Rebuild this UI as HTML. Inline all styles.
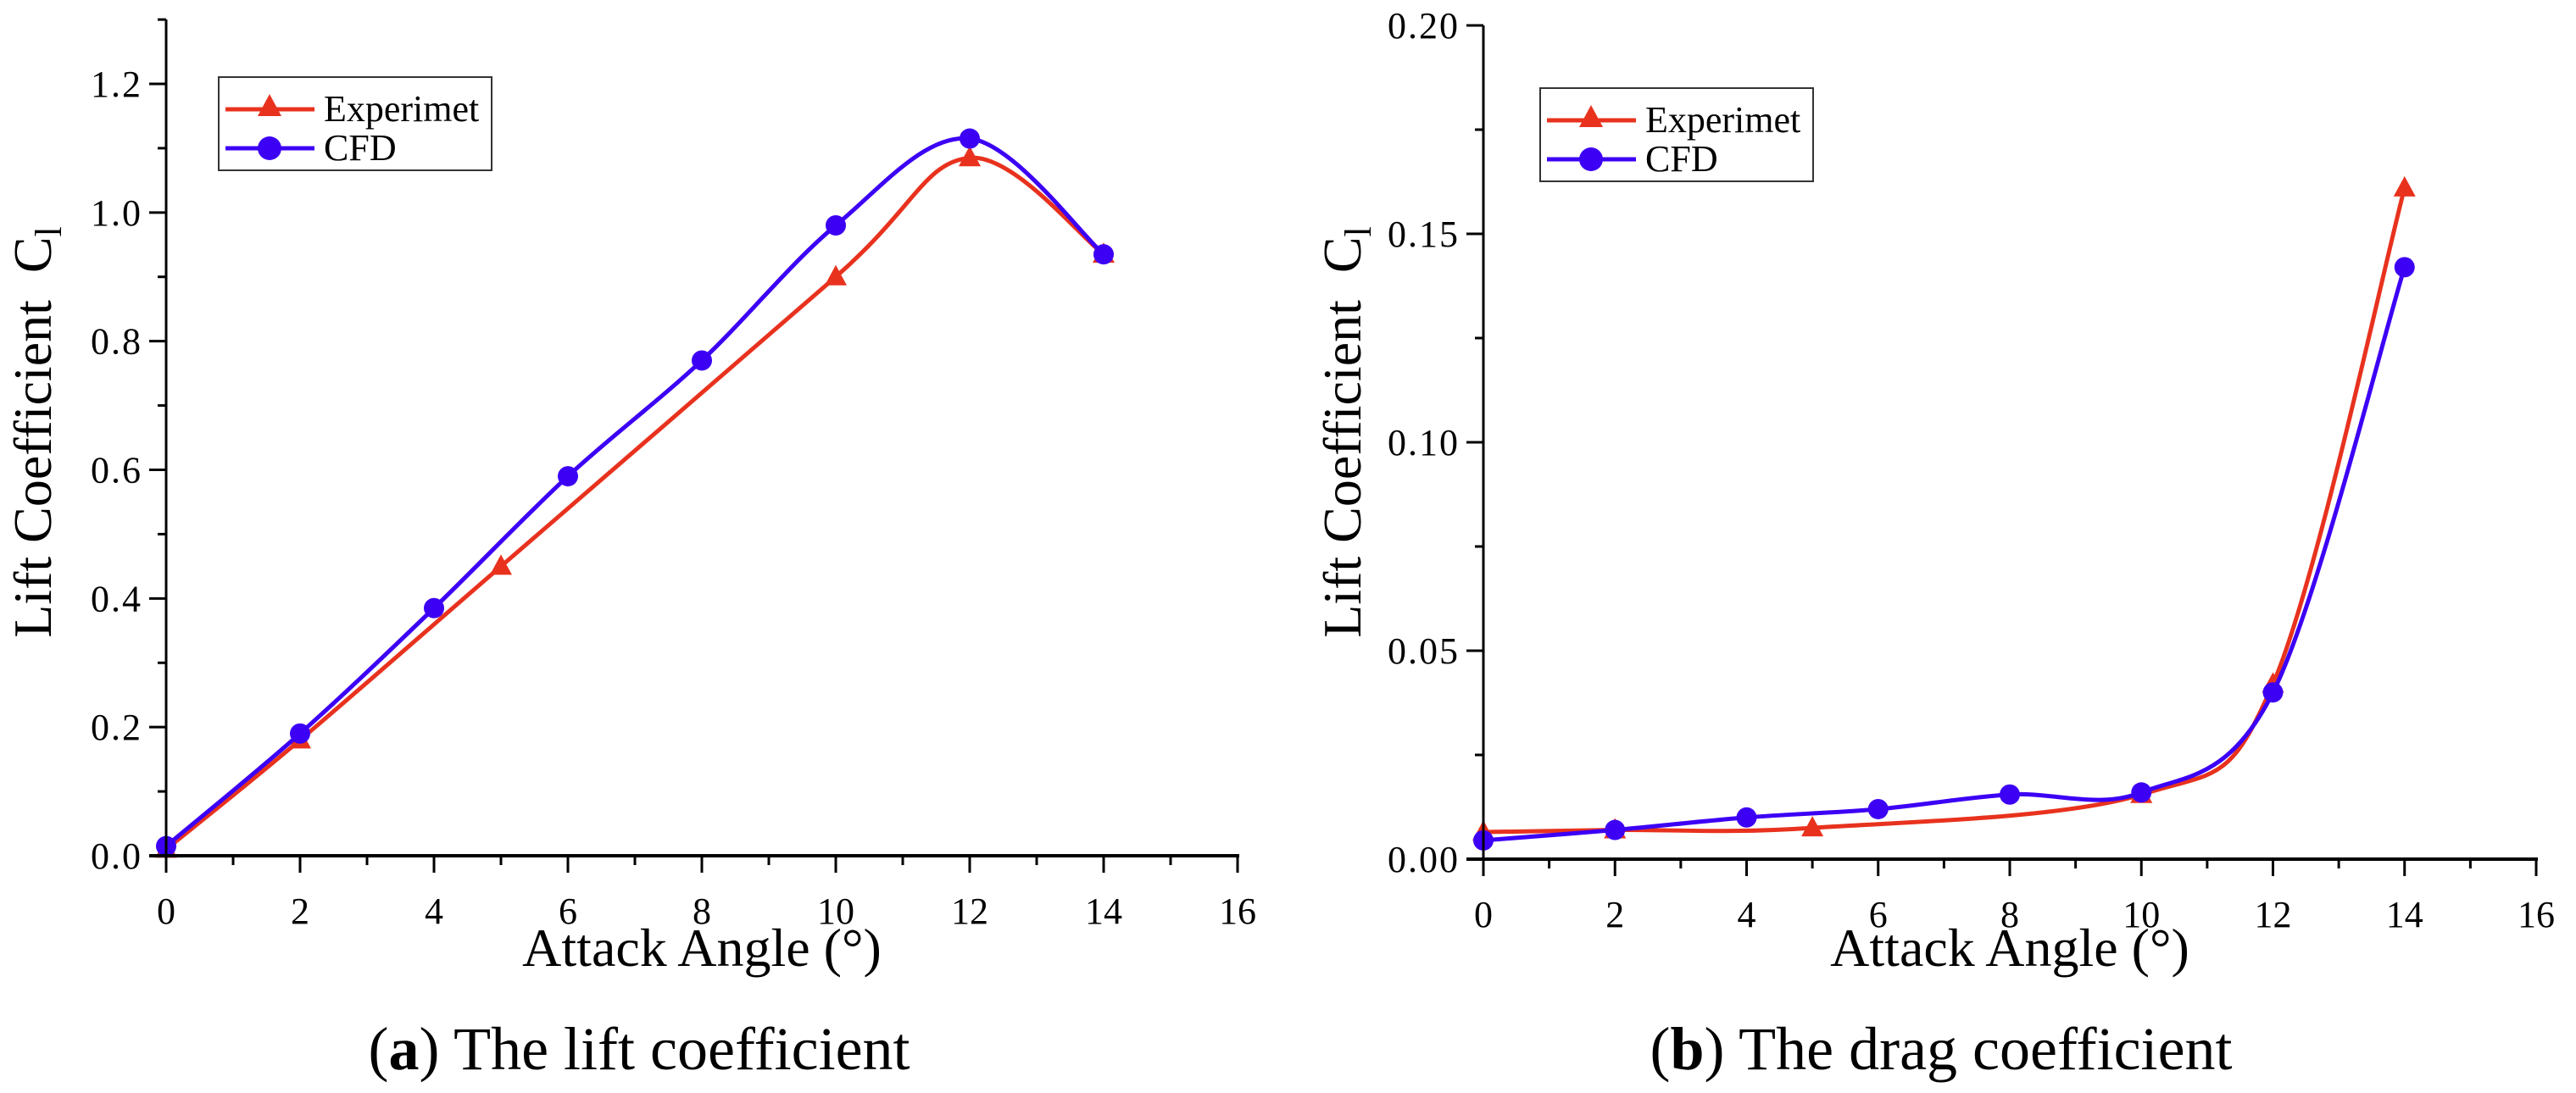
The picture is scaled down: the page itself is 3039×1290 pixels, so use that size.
<!DOCTYPE html>
<html><head><meta charset="utf-8"><style>
html,body{margin:0;padding:0;background:#fff;}
svg{display:block;font-family:"Liberation Serif",serif;}
.tk{font-stretch:condensed;}
</style></head><body>
<svg id="fig" width="3039" height="1290" viewBox="0 0 3039 1290" xmlns="http://www.w3.org/2000/svg"></svg>
<script>
// ---- Chart (a) data: lift coefficient ----
const liftExpX = [0, 2, 5, 10, 12, 14];
const liftExpY = [0.01, 0.18, 0.45, 0.90, 1.085, 0.935];
const liftCfdX = [0, 2, 4, 6, 8, 10, 12, 14];
const liftCfdY = [0.015, 0.19, 0.385, 0.59, 0.77, 0.98, 1.115, 0.935];
const liftYTicks = ["0.0", "0.2", "0.4", "0.6", "0.8", "1.0", "1.2"];
// ---- Chart (b) data: drag coefficient ----
const dragExpX = [0, 2, 5, 10, 12, 14];
const dragExpY = [0.0065, 0.007, 0.0075, 0.0155, 0.042, 0.161];
const dragCfdX = [0, 2, 4, 6, 8, 10, 12, 14];
const dragCfdY = [0.0045, 0.007, 0.010, 0.012, 0.0155, 0.016, 0.040, 0.142];
const dragYTicks = ["0.00", "0.05", "0.10", "0.15", "0.20"];
const xTicks = ["0", "2", "4", "6", "8", "10", "12", "14", "16"];

const NS = "http://www.w3.org/2000/svg";
const svg = document.getElementById("fig");
const RED = "#e8321e", BLUE = "#3c00f5";
function mk(tag, attrs, parent) {
  const e = document.createElementNS(NS, tag);
  for (const k in attrs) e.setAttribute(k, attrs[k]);
  (parent || svg).appendChild(e);
  return e;
}
function spline(pts) {
  let d = "M" + pts[0][0] + "," + pts[0][1];
  for (let i = 0; i < pts.length - 1; i++) {
    const p0 = pts[Math.max(i - 1, 0)], p1 = pts[i], p2 = pts[i + 1], p3 = pts[Math.min(i + 2, pts.length - 1)];
    const c1 = [p1[0] + (p2[0] - p0[0]) / 6, p1[1] + (p2[1] - p0[1]) / 6];
    const c2 = [p2[0] - (p3[0] - p1[0]) / 6, p2[1] - (p3[1] - p1[1]) / 6];
    d += " C" + c1[0] + "," + c1[1] + " " + c2[0] + "," + c2[1] + " " + p2[0] + "," + p2[1];
  }
  return d;
}
function chart(cfg) {
  const g = mk("g", {});
  
  
  const sx = v => cfg.x0 + (cfg.x1 - cfg.x0) * v / 16;
  const sy = v => cfg.y0 + (cfg.yMaxPx - cfg.y0) * v / cfg.yMax;
  function series(xs, ys, color, marker, nm) {
    const pts = xs.map((x, i) => [sx(x), sy(ys[i])]);
    const p = mk("path", { d: spline(pts), fill: "none", stroke: color, "stroke-width": 5 }, g);
    
    
    pts.forEach(pt => {
      let m;
      if (marker === "tri") m = mk("polygon", { points: `${pt[0]},${pt[1]-14} ${pt[0]-13},${pt[1]+10} ${pt[0]+13},${pt[1]+10}`, fill: color }, g);
      else m = mk("ellipse", { cx: pt[0], cy: pt[1], rx: 12, ry: 12, fill: color }, g);
      
      
    });
  }
  series(cfg.ex, cfg.ey, RED, "tri", "experiment");
  series(cfg.cx, cfg.cy, BLUE, "circle", "cfd");
  const ya = mk("line", { x1: cfg.x0, y1: cfg.yTop, x2: cfg.x0, y2: cfg.y0 + 2, stroke: "#000", "stroke-width": 3 }, g);
  
  
  const xa = mk("line", { x1: cfg.x0 - 20, y1: cfg.y0, x2: cfg.x1 + 2, y2: cfg.y0, stroke: "#000", "stroke-width": 4 }, g);
  
  
  for (let v = 0; v <= 16; v++) {
    const x = sx(v), major = v % 2 === 0;
    mk("line", { x1: x, y1: cfg.y0, x2: x, y2: cfg.y0 + (major ? 20 : 11), stroke: "#000", "stroke-width": 3 }, g);
    if (major) {
      const t = mk("text", { x: x, y: cfg.y0 + 80, "text-anchor": "middle", "font-size": 44, class: "tk" }, g);
      t.textContent = xTicks[v / 2];
      
      
    }
  }
  const n = cfg.yLabels.length;
  for (let i = 0; i < (n - 1) * 2 + cfg.extraMinor; i++) {
    const v = cfg.yMax / ((n - 1) * 2) * i;
    const y = sy(v), major = i % 2 === 0;
    if (i !== 0) mk("line", { x1: cfg.x0, y1: y, x2: cfg.x0 - (major ? 20 : 10), y2: y, stroke: "#000", "stroke-width": 3 }, g);
    if (major) {
      const t = mk("text", { x: cfg.x0 - 28, y: y + 15, "text-anchor": "end", "font-size": 44, "letter-spacing": 2, class: "tk" }, g);
      t.textContent = cfg.yLabels[i / 2];
      
      
    }
  }
  const yt = mk("text", { x: 0, y: 0, "text-anchor": "middle", "font-size": 64, transform: `translate(${cfg.ytx},510) rotate(-90)` }, g);
  yt.innerHTML = 'Lift Coefficient&#160;&#160;C<tspan font-size="44" dy="12">l</tspan>';
  
  
  const xt = mk("text", { x: (cfg.x0 + cfg.x1) / 2, y: 1140, "text-anchor": "middle", "font-size": 64 }, g);
  xt.textContent = "Attack Angle (°)";
  
  
  const lg = mk("g", {}, g);
  
  
  const L = cfg.leg;
  mk("rect", { x: L[0], y: L[1], width: 322, height: 110, fill: "#fff", stroke: "#333", "stroke-width": 2 }, lg);
  mk("line", { x1: L[0] + 8, y1: L[1] + 38, x2: L[0] + 113, y2: L[1] + 38, stroke: RED, "stroke-width": 5 }, lg);
  mk("polygon", { points: `${L[0]+60},${L[1]+20} ${L[0]+46},${L[1]+46} ${L[0]+74},${L[1]+46}`, fill: RED }, lg);
  mk("line", { x1: L[0] + 8, y1: L[1] + 84, x2: L[0] + 113, y2: L[1] + 84, stroke: BLUE, "stroke-width": 5 }, lg);
  mk("circle", { cx: L[0] + 60, cy: L[1] + 84, r: 14, fill: BLUE }, lg);
  const e1 = mk("text", { x: L[0] + 124, y: L[1] + 52, "font-size": 44 }, lg);
  e1.textContent = "Experimet";
  
  
  const e2 = mk("text", { x: L[0] + 124, y: L[1] + 98, "font-size": 44 }, lg);
  e2.textContent = "CFD";
  
  
  const cp = mk("text", { x: cfg.capX, y: 1262, "text-anchor": "middle", "font-size": 72 }, g);
  cp.innerHTML = '(<tspan font-weight="bold">' + cfg.capL + '</tspan>) ' + cfg.cap;
  
  
}
chart({ name: "lift-chart", x0: 196, x1: 1460, y0: 1010, yMax: 1.2, yMaxPx: 99, yTop: 23, extraMinor: 2,
  ex: liftExpX, ey: liftExpY, cx: liftCfdX, cy: liftCfdY, yLabels: liftYTicks, ytx: 60,
  leg: [258, 91], capX: 754, capL: "a", cap: "The lift coefficient" });
chart({ name: "drag-chart", x0: 1750, x1: 2992, y0: 1014, yMax: 0.2, yMaxPx: 30, yTop: 30, extraMinor: 1,
  ex: dragExpX, ey: dragExpY, cx: dragCfdX, cy: dragCfdY, yLabels: dragYTicks, ytx: 1605,
  leg: [1817, 104], capX: 2290, capL: "b", cap: "The drag coefficient" });
</script>
</body></html>
